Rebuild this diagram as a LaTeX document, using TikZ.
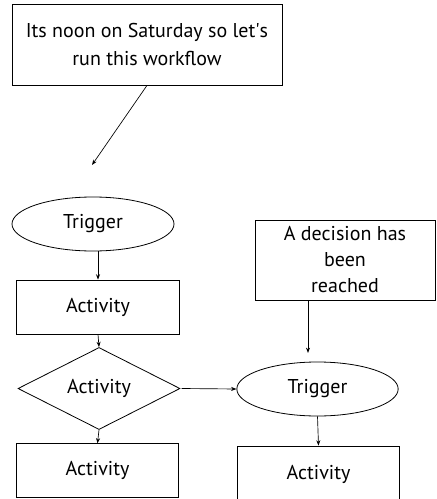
\documentclass[tikz,border=0pt]{standalone}
\usepackage{fontspec}
\setmainfont{PT Sans}
\usetikzlibrary{shapes.geometric,arrows.meta}
\begin{document}
\begin{tikzpicture}[x=0.75pt,y=-0.75pt,
  every node/.style={font=\fontsize{15}{20.5}\selectfont, inner sep=0pt, line width=0.6pt},
  box/.style={draw, rectangle, align=center},
  oval/.style={draw, ellipse},
  choice/.style={draw, diamond},
  arr/.style={-{Stealth[length=4pt,width=3pt]}, line width=0.5pt}]
\useasboundingbox (0,0) rectangle (436,499);

% note boxes
\node[box, minimum width=202.5pt, minimum height=60.75pt] (note) at (147,44.5)
  {Its noon on Saturday so let\textquotesingle s\\run this workflow};
\coordinate (noteend) at (92,165);
\node[box, minimum width=135pt, minimum height=60pt, font=\fontsize{15}{19.5}\selectfont] (dec) at (345,260)
  {A decision has\\been\\reached};

% left chain
\node[oval, minimum width=121.5pt, minimum height=40.5pt] (trig1) at (93,224) {Trigger};
\node[box, minimum width=122pt, minimum height=40.5pt] (act1) at (98,307) {Activity};
\node[choice, minimum width=121.5pt, minimum height=39.75pt] (dia) at (99,388.5) {Activity};
\node[box, minimum width=121pt, minimum height=40pt] (act3) at (97.5,470.5) {Activity};

% right chain
\node[oval, minimum width=121pt, minimum height=40.5pt] (trig2) at (317.5,389) {Trigger};
\node[box, minimum width=121pt, minimum height=42pt] (act4) at (318.5,474) {Activity};

% connectors
\draw[arr] (note.south) -- (noteend);
\draw[arr] (trig1.south -| act1.north) -- (act1.north);
\draw[arr] (act1.south) -- (dia.north);
\draw[arr] (dia.south) -- (act3.north);
\draw[arr] ([xshift=1pt]dia.east) -- (trig2.west);
\draw[arr, shorten >=6.5pt] ([xshift=-27.75pt]dec.south) -- ([xshift=-27.75pt]dec.south |- trig2.north);
\draw[arr] (trig2.south) -- (act4.north);
\end{tikzpicture}
\end{document}
